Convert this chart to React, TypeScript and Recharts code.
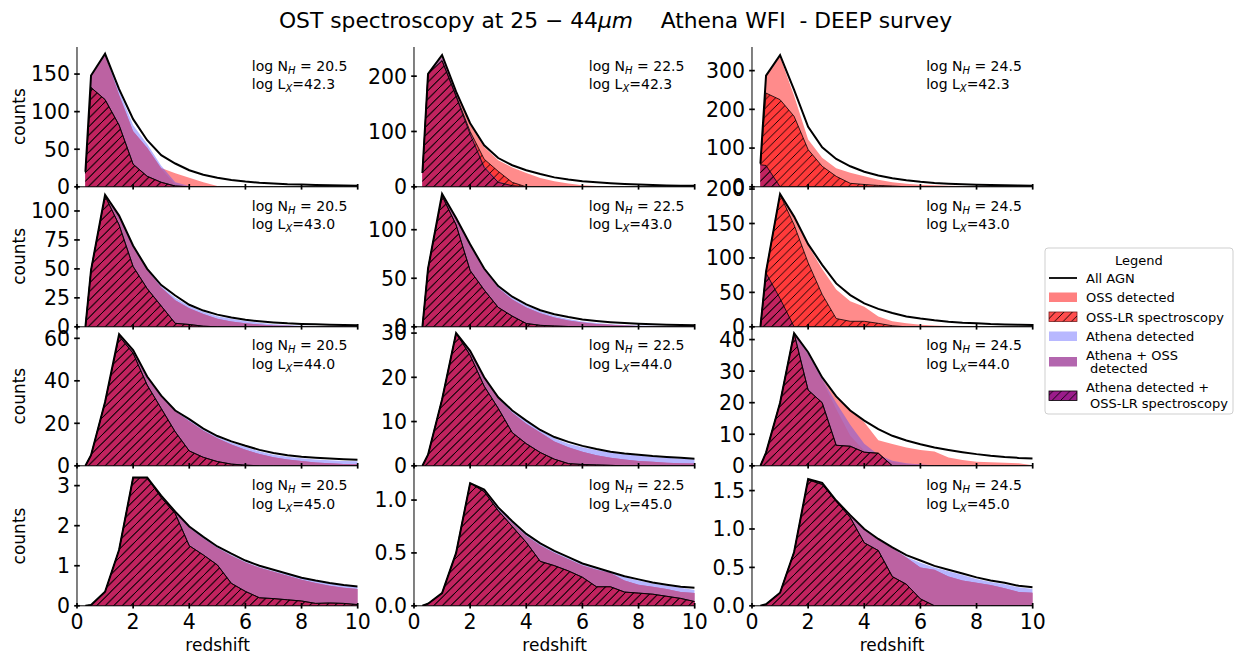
import React from 'react';
import { ComposedChart, Area, Line, XAxis, YAxis } from 'recharts';

// ---------- data ----------
const redshift = [0.3, 0.5, 1, 1.5, 2, 2.5, 3, 3.5, 4, 4.5, 5, 5.5, 6, 6.5, 7, 7.5, 8, 8.5, 9, 9.5, 10];
const xTicks = [0, 2, 4, 6, 8, 10];
const nhLabels = ['20.5', '22.5', '24.5'];
const lxLabels = ['42.3', '43.0', '44.0', '45.0'];

// log NH 20.5, log LX 42.3
const a_all = [20, 148, 177, 130, 90, 62, 42, 31, 22, 16, 12, 9, 7, 5.5, 4.5, 3.5, 3, 2.5, 2, 1.8, 1.5];
const a_oss = [20, 148, 175, 122, 74, 52, 25, 18, 12, 6, 1, 0, 0, 0, 0, 0, 0, 0, 0, 0, 0];
const a_ossLR = [18, 132, 116, 82, 30, 14, 6, 1, 0, 0, 0, 0, 0, 0, 0, 0, 0, 0, 0, 0, 0];
const a_ath = [20, 148, 176, 128, 82, 57, 28, 6, 1, 0, 0, 0, 0, 0, 0, 0, 0, 0, 0, 0, 0];
const a_athOss = [20, 148, 175, 122, 74, 52, 24, 3, 0.5, 0, 0, 0, 0, 0, 0, 0, 0, 0, 0, 0, 0];
const a_athLR = [18, 132, 116, 82, 30, 14, 6, 1, 0, 0, 0, 0, 0, 0, 0, 0, 0, 0, 0, 0, 0];

// log NH 20.5, log LX 43.0
const b_all = [0, 49, 114, 96, 70, 50, 36, 27, 19, 14, 10.5, 8, 6, 4.8, 3.8, 3, 2.5, 2.1, 1.8, 1.5, 1.3];
const b_oss = [0, 49, 113, 95, 69, 49, 34, 23, 16, 11, 7, 4.5, 3, 2, 1.2, 0.8, 0.5, 0.3, 0.2, 0.15, 0.1];
const b_ossLR = [0, 49, 113, 88, 52, 33, 18, 3, 2, 0.5, 0, 0, 0, 0, 0, 0, 0, 0, 0, 0, 0];
const b_ath = [0, 49, 113, 95, 69, 49, 35, 25, 18, 13, 9, 7, 5, 3.5, 2.3, 1.5, 1, 0.7, 0.5, 0.4, 0.3];
const b_athOss = [0, 49, 113, 95, 69, 49, 34, 23, 16, 11, 7, 4.5, 3, 2, 1.2, 0.8, 0.5, 0.3, 0.2, 0.15, 0.1];
const b_athLR = [0, 49, 113, 88, 52, 33, 18, 3, 2, 0.5, 0, 0, 0, 0, 0, 0, 0, 0, 0, 0, 0];

// log NH 20.5, log LX 44.0
const c_all = [0, 5, 30, 62, 54.5, 42, 33, 26, 22, 17.5, 14, 11.5, 9.4, 7.5, 6, 5, 4.3, 3.8, 3.4, 3.1, 2.9];
const c_oss = [0, 5, 30, 62, 54, 41.5, 32.5, 25.5, 21, 16.5, 13, 10, 7.5, 5.5, 4, 3, 2.2, 1.6, 1.2, 0.9, 0.7];
const c_ossLR = [0, 5, 30, 61, 53, 38, 27, 16, 7, 4, 2, 0.8, 0.3, 0, 0, 0, 0, 0, 0, 0, 0];
const c_ath = [0, 5, 30, 62, 54, 41.5, 32.5, 25.5, 21.5, 17, 13.5, 11, 8.8, 6.8, 5.2, 4.2, 3.5, 3, 2.6, 2.3, 2.1];
const c_athOss = [0, 5, 30, 62, 54, 41.5, 32.5, 25.5, 21, 16.5, 13, 10, 7.5, 5.5, 4, 3, 2.2, 1.6, 1.2, 0.9, 0.7];
const c_athLR = [0, 5, 30, 61, 53, 38, 27, 16, 7, 4, 2, 0.8, 0.3, 0, 0, 0, 0, 0, 0, 0, 0];

// log NH 20.5, log LX 45.0
const d_all = [0, 0.02, 0.35, 1.4, 3.2, 3.2, 2.75, 2.35, 1.98, 1.72, 1.48, 1.3, 1.13, 1.0, 0.9, 0.8, 0.7, 0.63, 0.57, 0.52, 0.48];
const d_oss = [0, 0.02, 0.35, 1.4, 3.2, 3.2, 2.74, 2.33, 1.94, 1.68, 1.44, 1.25, 1.08, 0.95, 0.85, 0.75, 0.65, 0.57, 0.5, 0.45, 0.42];
const d_ossLR = [0, 0.02, 0.35, 1.4, 3.2, 3.2, 2.7, 2.3, 1.5, 1.27, 1.02, 0.56, 0.36, 0.2, 0.18, 0.15, 0.12, 0.06, 0.07, 0.06, 0.03];
const d_ath = [0, 0.02, 0.35, 1.4, 3.2, 3.2, 2.74, 2.34, 1.96, 1.7, 1.46, 1.27, 1.1, 0.97, 0.87, 0.78, 0.69, 0.62, 0.56, 0.51, 0.47];
const d_athOss = [0, 0.02, 0.35, 1.4, 3.2, 3.2, 2.74, 2.33, 1.94, 1.68, 1.44, 1.25, 1.08, 0.95, 0.85, 0.75, 0.65, 0.57, 0.5, 0.45, 0.42];
const d_athLR = [0, 0.02, 0.35, 1.4, 3.2, 3.2, 2.7, 2.3, 1.5, 1.27, 1.02, 0.56, 0.36, 0.2, 0.18, 0.15, 0.12, 0.06, 0.07, 0.06, 0.03];

// log NH 22.5, log LX 42.3
const e_all = [25, 204, 238, 172, 115, 75, 52, 39, 30, 23, 17, 13, 10, 8, 6.5, 5, 4, 3.2, 2.5, 2, 1.8];
const e_oss = [25, 204, 236, 170, 112, 72, 48, 35, 25, 16, 10, 6, 3, 1.5, 0.5, 0, 0, 0, 0, 0, 0];
const e_ossLR = [25, 204, 228, 165, 100, 50, 28, 8, 0, 0, 0, 0, 0, 0, 0, 0, 0, 0, 0, 0, 0];
const e_ath = [25, 204, 234, 168, 100, 38, 10, 2, 0, 0, 0, 0, 0, 0, 0, 0, 0, 0, 0, 0, 0];
const e_athOss = [25, 204, 232, 167, 98, 36, 9, 2, 0, 0, 0, 0, 0, 0, 0, 0, 0, 0, 0, 0, 0];
const e_athLR = [25, 204, 228, 163, 95, 35, 8, 2, 0, 0, 0, 0, 0, 0, 0, 0, 0, 0, 0, 0, 0];

// log NH 22.5, log LX 43.0
const f_all = [0, 60, 137, 112, 85, 60, 42, 31, 23, 17, 13, 10, 7.5, 6, 4.8, 3.8, 3.1, 2.6, 2.2, 1.9, 1.7];
const f_oss = [0, 60, 136, 111, 84, 59, 40, 28, 20, 14, 9.5, 6.5, 4.5, 3, 2, 1.3, 0.9, 0.6, 0.4, 0.3, 0.2];
const f_ossLR = [0, 60, 135, 105, 58, 38, 20, 11, 3.4, 1.5, 0.8, 0.3, 0, 0, 0, 0, 0, 0, 0, 0, 0];
const f_ath = [0, 60, 136, 111, 84, 59, 41, 30, 22, 16, 11.5, 8, 5.5, 3.8, 2.6, 1.8, 1.3, 1, 0.8, 0.6, 0.5];
const f_athOss = [0, 60, 136, 111, 84, 59, 40, 28, 20, 14, 9.5, 6.5, 4.5, 3, 2, 1.3, 0.9, 0.6, 0.4, 0.3, 0.2];
const f_athLR = [0, 60, 135, 105, 58, 38, 20, 11, 3.4, 1.5, 0.8, 0.3, 0, 0, 0, 0, 0, 0, 0, 0, 0];

// log NH 22.5, log LX 44.0
const g_all = [0, 2.5, 15, 30, 26, 20, 15.5, 12.5, 10.2, 8.1, 6.5, 5.4, 4.5, 3.8, 3.2, 2.8, 2.5, 2.2, 2, 1.8, 1.6];
const g_oss = [0, 2.5, 15, 30, 25.8, 19.8, 15.2, 12, 9.5, 7.5, 5.5, 4.2, 3.2, 2.4, 1.8, 1.4, 1.1, 0.9, 0.7, 0.6, 0.5];
const g_ossLR = [0, 2.5, 15, 30, 25, 18, 13, 7.5, 5, 3, 1.5, 0.5, 0.3, 0.2, 0.1, 0, 0, 0, 0, 0, 0];
const g_ath = [0, 2.5, 15, 30, 25.8, 19.8, 15.3, 12.3, 10, 8, 6.2, 5, 4.2, 3.5, 3, 2.6, 2.3, 2, 1.8, 1.6, 1.4];
const g_athOss = [0, 2.5, 15, 30, 25.8, 19.8, 15.2, 12, 9.5, 7.5, 5.5, 4.2, 3.2, 2.4, 1.8, 1.4, 1.1, 0.9, 0.7, 0.6, 0.5];
const g_athLR = [0, 2.5, 15, 30, 25, 18, 13, 7.5, 5, 3, 1.5, 0.5, 0.3, 0.2, 0.1, 0, 0, 0, 0, 0, 0];

// log NH 22.5, log LX 45.0
const h_all = [0, 0.02, 0.12, 0.5, 1.16, 1.1, 0.93, 0.8, 0.68, 0.59, 0.52, 0.46, 0.4, 0.36, 0.32, 0.28, 0.25, 0.22, 0.2, 0.18, 0.17];
const h_oss = [0, 0.02, 0.12, 0.5, 1.16, 1.09, 0.91, 0.78, 0.66, 0.57, 0.5, 0.44, 0.38, 0.34, 0.31, 0.24, 0.2, 0.18, 0.16, 0.13, 0.12];
const h_ossLR = [0, 0.02, 0.12, 0.5, 1.16, 1.08, 0.9, 0.75, 0.6, 0.42, 0.38, 0.33, 0.27, 0.18, 0.18, 0.13, 0.12, 0.11, 0.09, 0.07, 0.04];
const h_ath = [0, 0.02, 0.12, 0.5, 1.16, 1.09, 0.92, 0.79, 0.67, 0.58, 0.51, 0.45, 0.39, 0.35, 0.32, 0.27, 0.24, 0.21, 0.19, 0.17, 0.15];
const h_athOss = [0, 0.02, 0.12, 0.5, 1.16, 1.09, 0.91, 0.78, 0.66, 0.57, 0.5, 0.44, 0.38, 0.34, 0.31, 0.24, 0.2, 0.18, 0.16, 0.13, 0.12];
const h_athLR = [0, 0.02, 0.12, 0.5, 1.16, 1.08, 0.9, 0.75, 0.6, 0.42, 0.38, 0.33, 0.27, 0.18, 0.18, 0.13, 0.12, 0.11, 0.09, 0.07, 0.04];

// log NH 24.5, log LX 42.3
const i_all = [60, 287, 340, 250, 155, 102, 72, 53, 39, 29, 22, 17, 13, 10, 8, 6.5, 5.5, 4.5, 3.8, 3.2, 2.8];
const i_oss = [60, 287, 336, 235, 122, 75, 48, 36, 27, 18, 12, 8, 5.5, 4, 3, 2, 1.5, 1, 0.8, 0.5, 0.3];
const i_ossLR = [58, 242, 225, 182, 96, 53, 27, 9, 6, 3.5, 2, 0, 0, 0, 0, 0, 0, 0, 0, 0, 0];
const i_ath = [57, 55, 0, 0, 0, 0, 0, 0, 0, 0, 0, 0, 0, 0, 0, 0, 0, 0, 0, 0, 0];
const i_athOss = [57, 55, 0, 0, 0, 0, 0, 0, 0, 0, 0, 0, 0, 0, 0, 0, 0, 0, 0, 0, 0];
const i_athLR = [57, 55, 0, 0, 0, 0, 0, 0, 0, 0, 0, 0, 0, 0, 0, 0, 0, 0, 0, 0, 0];

// log NH 24.5, log LX 43.0
const j_all = [0, 80, 193, 160, 120, 90, 63, 46, 34, 26, 20, 15, 12, 9.5, 7.5, 6, 5, 4, 3.5, 3, 2.5];
const j_oss = [0, 80, 193, 158, 118, 84, 54, 37, 29, 15, 8, 5, 3, 2, 1.3, 1, 0.7, 0.5, 0.4, 0.3, 0.2];
const j_ossLR = [0, 80, 192, 148, 93, 47, 12, 8, 8, 5, 1.5, 0, 0, 0, 0, 0, 0, 0, 0, 0, 0];
const j_ath = [0, 78, 41, 0, 0, 0, 0, 0, 0, 0, 0, 0, 0, 0, 0, 0, 0, 0, 0, 0, 0];
const j_athOss = [0, 78, 41, 0, 0, 0, 0, 0, 0, 0, 0, 0, 0, 0, 0, 0, 0, 0, 0, 0, 0];
const j_athLR = [0, 78, 41, 0, 0, 0, 0, 0, 0, 0, 0, 0, 0, 0, 0, 0, 0, 0, 0, 0, 0];

// log NH 24.5, log LX 44.0
const k_all = [0, 4.2, 20, 42, 36, 28, 22, 17.5, 14.3, 11.6, 9.5, 8, 6.8, 5.8, 5, 4.3, 3.7, 3.2, 2.8, 2.5, 2.3];
const k_oss = [0, 4.2, 20, 42, 35.5, 27.5, 21.5, 17.5, 13.8, 8.1, 6.9, 5.8, 5, 4.5, 2.6, 1.8, 1.3, 1.1, 1, 0.8, 0.2];
const k_ossLR = [0, 4.2, 20, 42, 24, 20, 6.5, 6.2, 4.3, 4, 0, 0, 0, 0, 0, 0, 0, 0, 0, 0, 0];
const k_ath = [0, 4.2, 20, 42, 35.5, 27.5, 20, 13, 7, 3.5, 1.6, 0.8, 0.4, 0.2, 0.1, 0, 0, 0, 0, 0, 0];
const k_athOss = [0, 4.2, 20, 42, 35, 27, 18, 9.5, 4.8, 2.5, 1.2, 0.6, 0.3, 0.15, 0.1, 0, 0, 0, 0, 0, 0];
const k_athLR = [0, 4.2, 20, 42, 24, 20, 6.5, 6.2, 4.3, 4, 0, 0, 0, 0, 0, 0, 0, 0, 0, 0, 0];

// log NH 24.5, log LX 45.0
const l_all = [0, 0.02, 0.17, 0.7, 1.65, 1.6, 1.37, 1.18, 1.0, 0.87, 0.76, 0.66, 0.59, 0.52, 0.47, 0.42, 0.37, 0.33, 0.3, 0.26, 0.24];
const l_oss = [0, 0.02, 0.17, 0.7, 1.64, 1.59, 1.36, 1.17, 0.99, 0.86, 0.75, 0.63, 0.5, 0.47, 0.38, 0.33, 0.3, 0.27, 0.23, 0.18, 0.17];
const l_ossLR = [0, 0.02, 0.17, 0.7, 1.64, 1.58, 1.36, 1.15, 0.82, 0.72, 0.38, 0.28, 0.09, 0, 0, 0, 0, 0, 0, 0, 0];
const l_ath = [0, 0.02, 0.17, 0.7, 1.64, 1.59, 1.36, 1.17, 0.99, 0.86, 0.75, 0.64, 0.56, 0.5, 0.45, 0.4, 0.35, 0.31, 0.28, 0.24, 0.22];
const l_athOss = [0, 0.02, 0.17, 0.7, 1.64, 1.59, 1.36, 1.17, 0.99, 0.86, 0.75, 0.63, 0.5, 0.47, 0.38, 0.33, 0.3, 0.27, 0.23, 0.18, 0.17];
const l_athLR = [0, 0.02, 0.17, 0.7, 1.64, 1.58, 1.36, 1.15, 0.82, 0.72, 0.38, 0.28, 0.09, 0, 0, 0, 0, 0, 0, 0, 0];

// y axis limits & ticks per panel
const yMaxA = 186, yTicksA = [0, 50, 100, 150];
const yMaxB = 120.7, yTicksB = [0, 25, 50, 75, 100];
const yMaxC = 65.8, yTicksC = [0, 20, 40, 60];
const yMaxD = 3.49, yTicksD = [0, 1, 2, 3];
const yMaxE = 252.7, yTicksE = [0, 100, 200];
const yMaxF = 144, yTicksF = [0, 50, 100];
const yMaxG = 31.6, yTicksG = [0, 10, 20, 30];
const yMaxH = 1.322, yTicksH = [0, 0.5, 1.0];
const yMaxI = 361, yTicksI = [0, 100, 200, 300];
const yMaxJ = 203, yTicksJ = [0, 50, 100, 150, 200];
const yMaxK = 44.3, yTicksK = [0, 10, 20, 30, 40];
const yMaxL = 1.82, yTicksL = [0, 0.5, 1.0, 1.5];

type PanelDef = {
  row: number; col: number;
  all: number[]; oss: number[]; ossLR: number[]; ath: number[]; athOss: number[]; athLR: number[];
  yMax: number; yTicks: number[]; dec: number;
};

const panels: PanelDef[] = [
  { row: 0, col: 0, all: a_all, oss: a_oss, ossLR: a_ossLR, ath: a_ath, athOss: a_athOss, athLR: a_athLR, yMax: yMaxA, yTicks: yTicksA, dec: 0 },
  { row: 1, col: 0, all: b_all, oss: b_oss, ossLR: b_ossLR, ath: b_ath, athOss: b_athOss, athLR: b_athLR, yMax: yMaxB, yTicks: yTicksB, dec: 0 },
  { row: 2, col: 0, all: c_all, oss: c_oss, ossLR: c_ossLR, ath: c_ath, athOss: c_athOss, athLR: c_athLR, yMax: yMaxC, yTicks: yTicksC, dec: 0 },
  { row: 3, col: 0, all: d_all, oss: d_oss, ossLR: d_ossLR, ath: d_ath, athOss: d_athOss, athLR: d_athLR, yMax: yMaxD, yTicks: yTicksD, dec: 0 },
  { row: 0, col: 1, all: e_all, oss: e_oss, ossLR: e_ossLR, ath: e_ath, athOss: e_athOss, athLR: e_athLR, yMax: yMaxE, yTicks: yTicksE, dec: 0 },
  { row: 1, col: 1, all: f_all, oss: f_oss, ossLR: f_ossLR, ath: f_ath, athOss: f_athOss, athLR: f_athLR, yMax: yMaxF, yTicks: yTicksF, dec: 0 },
  { row: 2, col: 1, all: g_all, oss: g_oss, ossLR: g_ossLR, ath: g_ath, athOss: g_athOss, athLR: g_athLR, yMax: yMaxG, yTicks: yTicksG, dec: 0 },
  { row: 3, col: 1, all: h_all, oss: h_oss, ossLR: h_ossLR, ath: h_ath, athOss: h_athOss, athLR: h_athLR, yMax: yMaxH, yTicks: yTicksH, dec: 1 },
  { row: 0, col: 2, all: i_all, oss: i_oss, ossLR: i_ossLR, ath: i_ath, athOss: i_athOss, athLR: i_athLR, yMax: yMaxI, yTicks: yTicksI, dec: 0 },
  { row: 1, col: 2, all: j_all, oss: j_oss, ossLR: j_ossLR, ath: j_ath, athOss: j_athOss, athLR: j_athLR, yMax: yMaxJ, yTicks: yTicksJ, dec: 0 },
  { row: 2, col: 2, all: k_all, oss: k_oss, ossLR: k_ossLR, ath: k_ath, athOss: k_athOss, athLR: k_athLR, yMax: yMaxK, yTicks: yTicksK, dec: 0 },
  { row: 3, col: 2, all: l_all, oss: l_oss, ossLR: l_ossLR, ath: l_ath, athOss: l_athOss, athLR: l_athLR, yMax: yMaxL, yTicks: yTicksL, dec: 1 },
];

// ---------- layout & style ----------
const FONT = 'DejaVu Sans, Verdana, sans-serif';
const PLOT_LEFT = [77.3, 414.3, 751.7];
const PLOT_TOP = [46.7, 186.5, 326.3, 466.1];
const PW = 280.7;
const PH = 139.8;
const ML = 60, MR = 25, MT = 10, MB = 50;

const C_OSS = '#ff8b8b';
const C_OSSLR = '#ff3a3a';
const C_ATH = '#4040ff';
const C_ATHOSS = '#bc62a2';
const C_ATHLR = '#c2235f';

const XTick = (props: any) => {
  const { x, y, payload, showLabel } = props;
  return (
    <g>
      <line x1={x} x2={x} y1={y - 2.8} y2={y + 2.8} stroke="#000" strokeWidth={1.7} />
      {showLabel ? (
        <text x={x} y={y + 23.5} textAnchor="middle" fontSize={20.5} fontFamily={FONT} fill="#000">
          {String(payload.value)}
        </text>
      ) : null}
    </g>
  );
};

const YTick = (props: any) => {
  const { x, y, payload, showLabel, dec } = props;
  return (
    <g>
      <line x1={x - 2.8} x2={x + 2.8} y1={y} y2={y} stroke="#000" strokeWidth={1.7} />
      {showLabel ? (
        <text x={x - 7} y={y + 7.4} textAnchor="end" fontSize={20.5} fontFamily={FONT} fill="#000">
          {Number(payload.value).toFixed(dec)}
        </text>
      ) : null}
    </g>
  );
};

function Panel({ p }: { p: PanelDef }) {
  const data = redshift.map((z, i) => ({
    z,
    all: p.all[i],
    oss: p.oss[i],
    ossLR: p.ossLR[i],
    ath: p.ath[i],
    athOss: p.athOss[i],
    athLR: p.athLR[i],
  }));
  const W = ML + PW + MR;
  const H = MT + PH + MB;
  const showX = p.row === 3;
  const axisLine = { stroke: '#000', strokeWidth: 1 };
  const common = { isAnimationActive: false, type: 'linear' as const, xAxisId: 'b', yAxisId: 'l', dot: false, activeDot: false };
  return (
    <div style={{ position: 'absolute', left: PLOT_LEFT[p.col] - ML, top: PLOT_TOP[p.row] - MT, width: W, height: H }}>
      <ComposedChart width={W} height={H} data={data} margin={{ top: MT, right: MR, bottom: 10, left: 10 }}>
        <XAxis xAxisId="b" dataKey="z" type="number" domain={[0, 10]} ticks={xTicks} orientation="bottom"
          height={MB - 10} allowDataOverflow interval={0} tickSize={0} tickMargin={0} tickLine={false}
          axisLine={axisLine} tick={(t: any) => <XTick {...t} showLabel={showX} />} />
        <XAxis xAxisId="t" dataKey="z" type="number" domain={[0, 10]} ticks={xTicks} orientation="top"
          height={0} allowDataOverflow interval={0} tickSize={0} tickMargin={0} tickLine={false}
          axisLine={axisLine} tick={(t: any) => <XTick {...t} showLabel={false} />} />
        <YAxis yAxisId="l" type="number" domain={[0, p.yMax]} ticks={p.yTicks} orientation="left"
          width={ML - 10} allowDataOverflow interval={0} tickSize={0} tickMargin={0} tickLine={false}
          axisLine={axisLine} tick={(t: any) => <YTick {...t} showLabel dec={p.dec} />} />
        <YAxis yAxisId="r" type="number" domain={[0, p.yMax]} ticks={p.yTicks} orientation="right"
          width={0} allowDataOverflow interval={0} tickSize={0} tickMargin={0} tickLine={false}
          axisLine={axisLine} tick={(t: any) => <YTick {...t} showLabel={false} dec={p.dec} />} />
        <Area {...common} dataKey="oss" fill={C_OSS} fillOpacity={1} stroke="none" />
        <Area {...common} dataKey="ossLR" fill={C_OSSLR} fillOpacity={1} stroke="none" />
        <Area {...common} dataKey="ath" fill={C_ATH} fillOpacity={0.38} stroke="none" />
        <Area {...common} dataKey="athOss" fill={C_ATHOSS} fillOpacity={1} stroke="none" />
        <Area {...common} dataKey="athLR" fill={C_ATHLR} fillOpacity={1} stroke="none" />
        <Area {...common} dataKey="ossLR" fill="url(#hatchLines)" fillOpacity={1} stroke="#000" strokeWidth={0.8} />
        <Area {...common} dataKey="athLR" fill="url(#hatchLines)" fillOpacity={1} stroke="#000" strokeWidth={0.8} />
        <Line {...common} dataKey="all" stroke="#000" strokeWidth={2} />
      </ComposedChart>
    </div>
  );
}

function Annotations() {
  const items: React.ReactNode[] = [];
  for (let r = 0; r < 4; r++) {
    for (let c = 0; c < 3; c++) {
      const x = PLOT_LEFT[c] + 174.5;
      const y = PLOT_TOP[r];
      items.push(
        <g key={`ann${r}${c}`}>
          <text x={x} y={y + 24} fontSize={14} fontFamily={FONT} fill="#000" style={{ whiteSpace: 'pre' }}>
            {'log N'}
            <tspan fontSize={10} fontStyle="italic" dy={3}>H</tspan>
            <tspan dy={-3}>{' = ' + nhLabels[c]}</tspan>
          </text>
          <text x={x} y={y + 42.6} fontSize={14} fontFamily={FONT} fill="#000" style={{ whiteSpace: 'pre' }}>
            {'log L'}
            <tspan fontSize={10} fontStyle="italic" dy={3}>X</tspan>
            <tspan dy={-3}>{'=' + lxLabels[r]}</tspan>
          </text>
        </g>
      );
    }
  }
  return <>{items}</>;
}

function Overlay() {
  const bottom = PLOT_TOP[3] + PH;
  return (
    <svg width={1243} height={656} style={{ position: 'absolute', left: 0, top: 0, pointerEvents: 'none' }}>
      <text x={615.5} y={28} textAnchor="middle" fontSize={21.8} fontFamily={FONT} fill="#000" style={{ whiteSpace: 'pre' }}>
        {'OST spectroscopy at 25 − 44'}
        <tspan fontStyle="italic">μm</tspan>
        {'    Athena WFI  - DEEP survey'}
      </text>
      {PLOT_TOP.map((t, r) => (
        <text key={`cnt${r}`} x={25} y={t + PH / 2} textAnchor="middle" fontSize={17} fontFamily={FONT} fill="#000"
          transform={`rotate(-90 25 ${t + PH / 2})`}>
          counts
        </text>
      ))}
      {PLOT_LEFT.map((l, c) => (
        <text key={`rs${c}`} x={l + PW / 2} y={bottom + 45.5} textAnchor="middle" fontSize={17} fontFamily={FONT} fill="#000">
          redshift
        </text>
      ))}
      <Annotations />
    </svg>
  );
}

const legendItems = ['All AGN', 'OSS detected', 'OSS-LR spectroscopy', 'Athena detected', 'Athena + OSS', 'Athena detected +'];

function LegendBox() {
  const fs = 13;
  const tx = 42;
  return (
    <svg width={190} height={168} style={{ position: 'absolute', left: 1044, top: 247 }}>
      <rect x={1} y={1} width={188} height={166} rx={3} ry={3} fill="#fff" stroke="#cfcfcf" strokeWidth={1} />
      <text x={95} y={18} textAnchor="middle" fontSize={fs} fontFamily={FONT}>Legend</text>
      <line x1={5} x2={33} y1={31} y2={31} stroke="#000" strokeWidth={1.8} />
      <text x={tx} y={35.5} fontSize={fs} fontFamily={FONT}>{legendItems[0]}</text>
      <rect x={5} y={45.5} width={28} height={9.5} fill="#ff8080" />
      <text x={tx} y={54.5} fontSize={fs} fontFamily={FONT}>{legendItems[1]}</text>
      <rect x={5} y={65} width={28} height={9.5} fill="#ff4d4d" stroke="#7a2020" strokeWidth={0.8} />
      <rect x={5} y={65} width={28} height={9.5} fill="url(#hatchLines)" />
      <text x={tx} y={74.5} fontSize={fs} fontFamily={FONT}>{legendItems[2]}</text>
      <rect x={5} y={84.5} width={28} height={9.5} fill="#b8b8ff" />
      <text x={tx} y={93.5} fontSize={fs} fontFamily={FONT}>{legendItems[3]}</text>
      <rect x={5} y={110} width={28} height={9.5} fill="#b366ae" />
      <text x={tx} y={112.5} fontSize={fs} fontFamily={FONT}>{legendItems[4]}</text>
      <text x={tx + 4} y={126} fontSize={fs} fontFamily={FONT}>detected</text>
      <rect x={5} y={144} width={28} height={9.5} fill="#9b1b8b" stroke="#000" strokeWidth={0.8} />
      <rect x={5} y={144} width={28} height={9.5} fill="url(#hatchLines)" />
      <text x={tx} y={144.5} fontSize={fs} fontFamily={FONT}>{legendItems[5]}</text>
      <text x={tx + 4} y={160.5} fontSize={fs} fontFamily={FONT}>OSS-LR spectroscopy</text>
    </svg>
  );
}

export default function App() {
  return (
    <div style={{ position: 'absolute', left: 0, top: 0, width: 1243, height: 656, background: '#fff', overflow: 'hidden' }}>
      <svg width={0} height={0} style={{ position: 'absolute' }}>
        <defs>
          <pattern id="hatchLines" patternUnits="userSpaceOnUse" width={8.5} height={8.5}>
            <path d="M0,8.5 L8.5,0 M-2,2 L2,-2 M6.5,10.5 L10.5,6.5" stroke="#000" strokeWidth={0.9} />
          </pattern>
        </defs>
      </svg>
      {panels.map((p, i) => (
        <Panel key={i} p={p} />
      ))}
      <Overlay />
      <LegendBox />
    </div>
  );
}
